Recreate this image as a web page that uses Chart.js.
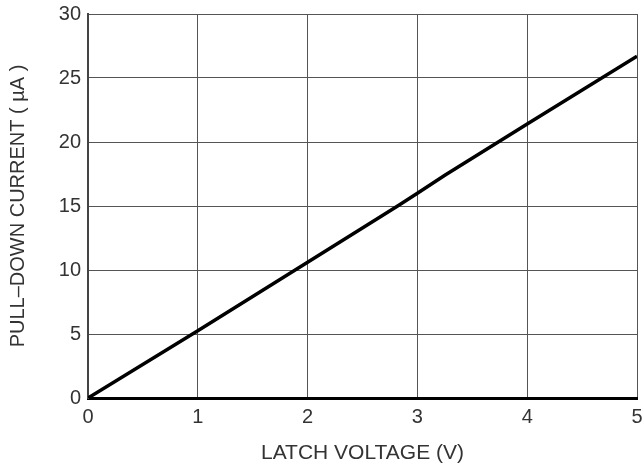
<!DOCTYPE html>
<html>
<head>
<meta charset="utf-8">
<script src="https://cdn.jsdelivr.net/npm/chart.js@4/dist/chart.umd.min.js"></script>
<style>
  html, body { margin: 0; padding: 0; background: #ffffff; }
  #chart { display: block; }
</style>
</head>
<body>
<canvas id="chart" width="643" height="470"></canvas>
<script>
const latchVoltage = [0, 1, 2, 2.82, 3, 3.25, 4, 5];
const pullDownCurrent = [0, 5.25, 10.6, 15.0, 16.0, 17.4, 21.4, 26.7];
const xTicks = [0, 1, 2, 3, 4, 5];
const yTicks = [0, 5, 10, 15, 20, 25, 30];

const points = latchVoltage.map((v, i) => ({ x: v, y: pullDownCurrent[i] }));

Chart.defaults.font.family = "'Liberation Sans', Arial, sans-serif";
Chart.defaults.color = "#333333";
Chart.defaults.animation = false;
Chart.defaults.responsive = false;
Chart.defaults.plugins.legend.display = false;
Chart.defaults.plugins.tooltip.enabled = false;

new Chart(document.getElementById("chart"), {
  type: "scatter",
  data: {
    datasets: [
      {
        data: points,
        showLine: true,
        borderColor: "#000000",
        borderWidth: 3.5,
        pointRadius: 0,
        tension: 0,
      },
    ],
  },
  options: {
    maintainAspectRatio: false,
    layout: { padding: { left: 6, right: 6, top: 14, bottom: 0 } },
    scales: {
      x: {
        type: "linear",
        min: 0,
        max: 5,
        afterBuildTicks: (scale) => {
          scale.ticks = xTicks.map((v) => ({ value: v }));
        },
        afterFit: (scale) => {
          scale.height = 72;
          scale.paddingLeft = 0;
          scale.paddingRight = 0;
        },
        grid: { color: "#555555", lineWidth: 1, drawTicks: false },
        border: { color: "#000000", width: 3 },
        ticks: { padding: 7, font: { size: 20 }, maxRotation: 0 },
        title: {
          display: true,
          text: "LATCH VOLTAGE (V)",
          font: { size: 21 },
          padding: { top: 10, bottom: 4 },
        },
      },
      y: {
        min: 0,
        max: 30,
        afterBuildTicks: (scale) => {
          scale.ticks = yTicks.map((v) => ({ value: v }));
        },
        afterFit: (scale) => {
          scale.width = 82;
          scale.paddingTop = 0;
          scale.paddingBottom = 0;
        },
        grid: { color: "#555555", lineWidth: 1, drawTicks: false },
        border: { color: "#444444", width: 2 },
        ticks: { padding: 7, font: { size: 20 } },
        title: {
          display: true,
          text: "PULL\u2013DOWN CURRENT ( \u00b5A )",
          font: { size: 20 },
          padding: { top: 0, bottom: 10 },
        },
      },
    },
  },
});
</script>
</body>
</html>
